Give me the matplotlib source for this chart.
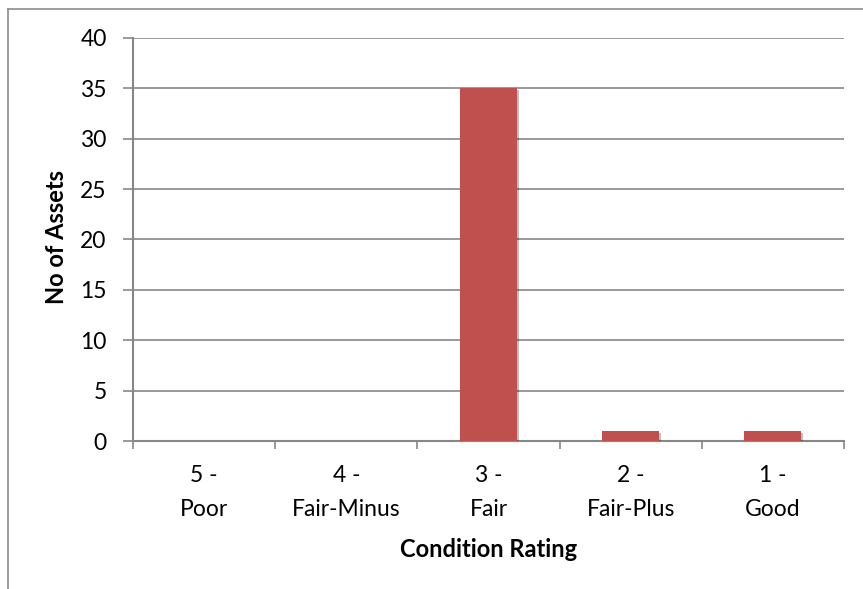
import matplotlib
matplotlib.use("Agg")
import matplotlib.pyplot as plt
import matplotlib.patheffects as pe
from matplotlib.lines import Line2D
import numpy as np

# data
categories = ["5 -\nPoor", "4 -\nFair-Minus", "3 -\nFair", "2 -\nFair-Plus", "1 -\nGood"]
asset_counts = [0, 0, 35, 1, 1]

plt.rcParams['font.family'] = ['Lato', 'DejaVu Sans']

fig = plt.figure(figsize=(8.63, 5.89), dpi=100)
ax = fig.add_axes([133/863, 1 - 441/589, (844 - 133)/863, (441 - 38)/589])

grid_c = "#878787"
x = np.arange(len(categories))
bars = ax.bar(x, asset_counts, width=0.4, color="#C0504D", zorder=3)
for b in bars:
    b.set_path_effects([pe.SimplePatchShadow(offset=(1.5, -1.5), shadow_rgbFace="#000000", alpha=0.25),
                        pe.Normal()])

ax.set_xlim(-0.5, len(categories) - 0.5)
ax.set_ylim(0, 40)
ax.set_yticks(range(0, 41, 5))
ax.yaxis.grid(True, color=grid_c, linewidth=1.2, zorder=0)
ax.set_axisbelow(True)

# category boundary ticks, labels on minor ticks at centres
ax.set_xticks(np.arange(-0.5, len(categories), 1.0))
ax.set_xticklabels([])
ax.set_xticks(x, minor=True)
ax.set_xticklabels(categories, minor=True, fontsize=16.5, linespacing=1.8)
ax.tick_params(axis="x", which="minor", length=0, pad=17)
ax.tick_params(axis="x", which="major", length=6, width=1.2, color=grid_c, direction="out")
ax.tick_params(axis="y", length=7, width=1.2, color=grid_c, direction="out", labelsize=16.5, pad=12)

for s in ["top", "right"]:
    ax.spines[s].set_visible(False)
for s in ["left", "bottom"]:
    ax.spines[s].set_color(grid_c)
    ax.spines[s].set_linewidth(1.5)

ax.set_xlabel("Condition Rating", fontsize=17, fontweight="bold", va="center")
ax.xaxis.set_label_coords(0.5007, -0.27)
ax.set_ylabel("No of Assets", fontsize=17, fontweight="bold", va="center")
ax.yaxis.set_label_coords(-0.107, 0.506)

# outer chart border (left and top visible)
fig.add_artist(Line2D([7.5/863, 7.5/863], [0, 1 - 8.5/589], transform=fig.transFigure, color="#8c8c8c", linewidth=1.2))
fig.add_artist(Line2D([7.5/863, 1], [1 - 8.5/589, 1 - 8.5/589], transform=fig.transFigure, color="#8c8c8c", linewidth=1.2))

fig.savefig("out.png", dpi=100)
